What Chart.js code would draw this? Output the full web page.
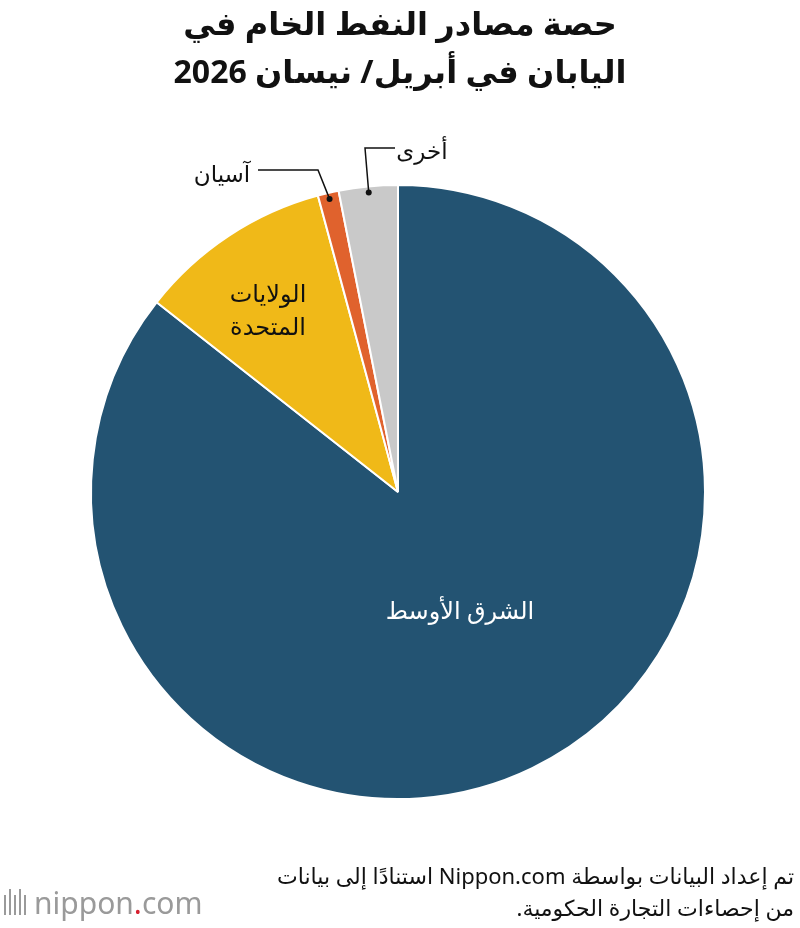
<!DOCTYPE html>
<html>
<head>
<meta charset="utf-8">
<script src="https://cdn.jsdelivr.net/npm/chart.js@4/dist/chart.umd.min.js"></script>
<style>
  body { margin: 0; background: #fff; }
  #wrap { width: 800px; height: 928px; position: relative; }
</style>
</head>
<body>
<div id="wrap"><canvas id="c" width="800" height="928"></canvas></div>
<script>
// Datos del gráfico
const categorias = ['الشرق الأوسط', 'الولايات المتحدة', 'آسيان', 'أخرى'];
const valores = [85.6, 10.2, 1.1, 3.1];
const colores = ['#235372', '#f0b918', '#e0622d', '#c9c9c9'];
const titulo = ['حصة مصادر النفط الخام في', 'اليابان في أبريل/ نيسان 2026'];
const fuente = ['تم إعداد البيانات بواسطة Nippon.com استنادًا إلى بيانات', 'من إحصاءات التجارة الحكومية.'];

const FONT = '"Noto Sans", "DejaVu Sans", sans-serif';

const etiquetas = {
  id: 'etiquetas',
  afterDraw(chart) {
    const ctx = chart.ctx;
    const arcs = chart.getDatasetMeta(0).data;
    ctx.save();
    ctx.direction = 'rtl';

    // Título
    ctx.fillStyle = '#111';
    ctx.textAlign = 'center';
    ctx.textBaseline = 'middle';
    ctx.font = 'bold 32px ' + FONT;
    ctx.fillText(titulo[0], 400, 26);
    ctx.fillText(titulo[1], 400, 74);

    // Etiquetas internas
    const cx = arcs[0].x, cy = arcs[0].y;
    ctx.font = '24px ' + FONT;
    ctx.fillStyle = '#fff';
    ctx.fillText(categorias[0], 460, 612);
    ctx.fillStyle = '#111';
    ctx.fillText('الولايات', 268, 295);
    ctx.fillText('المتحدة', 268, 328);

    // Líneas guía para segmentos pequeños
    function borde(i) {
      const a = arcs[i];
      const m = (a.startAngle + a.endAngle) / 2;
      const r = a.outerRadius - 6;
      return [cx + Math.cos(m) * r, cy + Math.sin(m) * r];
    }
    ctx.strokeStyle = '#111';
    ctx.lineWidth = 1.5;
    let p = borde(2);
    ctx.beginPath();
    ctx.moveTo(258, 170); ctx.lineTo(318, 170); ctx.lineTo(p[0], p[1]); ctx.stroke();
    ctx.beginPath(); ctx.arc(p[0], p[1], 3, 0, Math.PI * 2); ctx.fillStyle = '#111'; ctx.fill();
    p = borde(3);
    ctx.beginPath();
    ctx.moveTo(395, 148); ctx.lineTo(365, 148); ctx.lineTo(p[0], p[1]); ctx.stroke();
    ctx.beginPath(); ctx.arc(p[0], p[1], 3, 0, Math.PI * 2); ctx.fill();
    ctx.font = '23px ' + FONT;
    ctx.fillText(categorias[2], 222, 175);
    ctx.fillText(categorias[3], 422, 152);

    // Fuente
    ctx.textAlign = 'right';
    ctx.font = '22px ' + FONT;
    ctx.fillText(fuente[0], 794, 878);
    ctx.fillText(fuente[1], 794, 910);

    // Logo
    ctx.direction = 'ltr';
    ctx.textAlign = 'left';
    ctx.fillStyle = '#9a9a9a';
    for (let i = 0; i < 5; i++) ctx.fillRect(4 + i * 5, 895 - (i % 2 ? 6 : 0), 2, 20 + (i % 2 ? 6 : 0));
    ctx.font = '30px ' + FONT;
    ctx.fillText('nippon', 34, 905);
    let w = ctx.measureText('nippon').width;
    ctx.fillStyle = '#d7202f';
    ctx.fillText('.', 34 + w, 905);
    let w2 = ctx.measureText('.').width;
    ctx.fillStyle = '#9a9a9a';
    ctx.fillText('com', 34 + w + w2, 905);
    ctx.restore();
  }
};

new Chart(document.getElementById('c'), {
  type: 'pie',
  data: {
    labels: categorias,
    datasets: [{
      data: valores,
      backgroundColor: colores,
      borderColor: '#fff',
      borderWidth: 2
    }]
  },
  options: {
    responsive: false,
    animation: false,
    layout: { padding: { top: 184, bottom: 128, left: 90, right: 94 } },
    plugins: { legend: { display: false }, tooltip: { enabled: false }, title: { display: false } }
  },
  plugins: [etiquetas]
});
</script>
</body>
</html>
